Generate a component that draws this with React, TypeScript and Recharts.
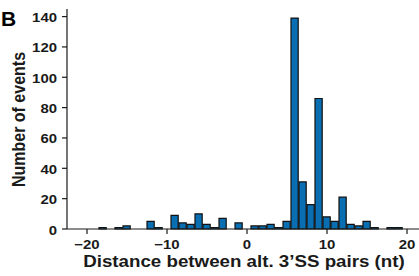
import React from 'react';
import { BarChart, Bar, XAxis, YAxis } from 'recharts';

// histogram bins (nt) and counts
const distances = [
  -22, -21, -20, -19, -18, -17, -16, -15, -14, -13, -12, -11, -10, -9, -8, -7, -6, -5, -4, -3, -2, -1,
  0, 1, 2, 3, 4, 5, 6, 7, 8, 9, 10, 11, 12, 13, 14, 15, 16, 17, 18, 19, 20, 21,
];
const events = [
  0, 0, 0, 0, 1, 0, 1, 2, 0, 0, 5, 1, 0, 9, 4, 3, 10, 3, 1, 7, 0, 4,
  0, 2, 2, 3, 1, 5, 139, 31, 16, 86, 8, 5, 21, 3, 2, 5, 1, 0, 1, 1, 0, 0,
];
const xTicks = [-20, -10, 0, 10, 20];
const yTicks = [0, 20, 40, 60, 80, 100, 120, 140];

const data = distances.map((d, i) => ({ distance: d, events: events[i] }));

const FONT = '"Liberation Sans", Arial, Helvetica, sans-serif';
const INK = '#1a1a1a';
const SX = 1.15; // the figure is a bit stretched horizontally

const fmt = (v: number) => (v < 0 ? `\u2212${-v}` : `${v}`);

function XTick(props: any) {
  const { x, y, payload } = props;
  return (
    <g transform={`translate(${x},${y + 13}) scale(${SX},1)`}>
      <text x={0} y={0} textAnchor="middle" fontFamily={FONT} fontWeight="bold" fontSize={13} fill={INK}>
        {fmt(payload.value)}
      </text>
    </g>
  );
}

function YTick(props: any) {
  const { x, y, payload } = props;
  return (
    <g transform={`translate(${x - 3},${y + 5.5}) scale(${SX},1)`}>
      <text x={0} y={0} textAnchor="end" fontFamily={FONT} fontWeight="bold" fontSize={13} fill={INK}>
        {payload.value}
      </text>
    </g>
  );
}

export default function App() {
  return (
    <div style={{ position: 'absolute', left: 0, top: 0, width: 419, height: 276, background: '#fff' }}>
      <BarChart width={419} height={276} data={data} margin={{ top: 9, right: 0, bottom: 0, left: 0 }}>
        <XAxis
          xAxisId="top"
          orientation="top"
          type="number"
          dataKey="distance"
          domain={[-22.5, 21.5]}
          allowDataOverflow
          height={0}
          tick={false}
          tickLine={false}
          axisLine={{ stroke: INK, strokeWidth: 1.2 }}
        />
        <XAxis
          type="number"
          dataKey="distance"
          domain={[-22.5, 21.5]}
          allowDataOverflow
          ticks={xTicks}
          height={47}
          tickSize={5}
          tick={<XTick />}
          axisLine={{ stroke: INK, strokeWidth: 1.2 }}
          tickLine={{ stroke: INK, strokeWidth: 1.2 }}
        />
        <YAxis
          type="number"
          domain={[0, 145]}
          ticks={yTicks}
          width={67}
          tickSize={5}
          tick={<YTick />}
          axisLine={{ stroke: INK, strokeWidth: 1.2 }}
          tickLine={{ stroke: INK, strokeWidth: 1.2 }}
        />
        <Bar
          dataKey="events"
          fill="#0a6fb2"
          stroke="#111"
          strokeWidth={1.2}
          barSize={8}
          isAnimationActive={false}
        />
        <g transform={`translate(25,119.5) scale(${SX},1) rotate(-90)`}>
          <text x={0} y={0} textAnchor="middle" fontFamily={FONT} fontWeight="bold" fontSize={16} fill={INK}>
            Number of events
          </text>
        </g>
        <g transform={`translate(244,267) scale(${SX},1)`}>
          <text x={0} y={0} textAnchor="middle" fontFamily={FONT} fontWeight="bold" fontSize={16.3} fill={INK}>
            Distance between alt. 3’SS pairs (nt)
          </text>
        </g>
        <text x={1} y={26} fontFamily={FONT} fontWeight="bold" fontSize={21} fill="#000">
          B
        </text>
      </BarChart>
    </div>
  );
}
